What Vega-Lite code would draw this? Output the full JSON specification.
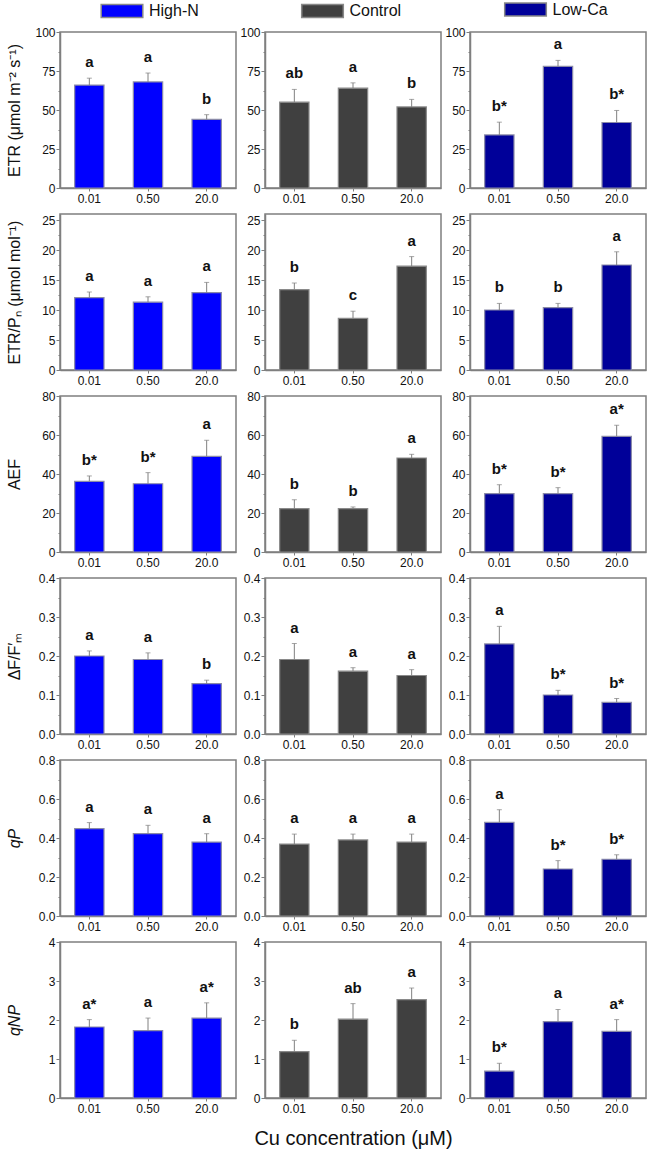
{
  "$schema": "https://vega.github.io/schema/vega-lite/v6.json",
  "padding": {"left": 5, "top": 0, "right": 0, "bottom": 0},
  "background": "white",
  "data": {"values": [
    {"m":"ETR","g":"High-N","c":"0.01","v":66,"hi":70.4,"lab":"a"},
    {"m":"ETR","g":"High-N","c":"0.50","v":68,"hi":73.7,"lab":"a"},
    {"m":"ETR","g":"High-N","c":"20.0","v":44,"hi":47,"lab":"b"},
    {"m":"ETR","g":"Control","c":"0.01","v":55,"hi":63.2,"lab":"ab"},
    {"m":"ETR","g":"Control","c":"0.50","v":64,"hi":67.4,"lab":"a"},
    {"m":"ETR","g":"Control","c":"20.0","v":52,"hi":56.8,"lab":"b"},
    {"m":"ETR","g":"Low-Ca","c":"0.01","v":34,"hi":42.2,"lab":"b*"},
    {"m":"ETR","g":"Low-Ca","c":"0.50","v":78,"hi":81.8,"lab":"a"},
    {"m":"ETR","g":"Low-Ca","c":"20.0","v":42,"hi":49.7,"lab":"b*"},
    {"m":"ETRPN","g":"High-N","c":"0.01","v":12.05,"hi":13.0,"lab":"a"},
    {"m":"ETRPN","g":"High-N","c":"0.50","v":11.3,"hi":12.2,"lab":"a"},
    {"m":"ETRPN","g":"High-N","c":"20.0","v":12.9,"hi":14.6,"lab":"a"},
    {"m":"ETRPN","g":"Control","c":"0.01","v":13.4,"hi":14.5,"lab":"b"},
    {"m":"ETRPN","g":"Control","c":"0.50","v":8.6,"hi":9.8,"lab":"c"},
    {"m":"ETRPN","g":"Control","c":"20.0","v":17.3,"hi":18.9,"lab":"a"},
    {"m":"ETRPN","g":"Low-Ca","c":"0.01","v":10.0,"hi":11.1,"lab":"b"},
    {"m":"ETRPN","g":"Low-Ca","c":"0.50","v":10.4,"hi":11.1,"lab":"b"},
    {"m":"ETRPN","g":"Low-Ca","c":"20.0","v":17.5,"hi":19.7,"lab":"a"},
    {"m":"AEF","g":"High-N","c":"0.01","v":36.2,"hi":39,"lab":"b*"},
    {"m":"AEF","g":"High-N","c":"0.50","v":35,"hi":40.7,"lab":"b*"},
    {"m":"AEF","g":"High-N","c":"20.0","v":49,"hi":57.3,"lab":"a"},
    {"m":"AEF","g":"Control","c":"0.01","v":22.2,"hi":26.8,"lab":"b"},
    {"m":"AEF","g":"Control","c":"0.50","v":22.2,"hi":23.1,"lab":"b"},
    {"m":"AEF","g":"Control","c":"20.0","v":48.2,"hi":50.1,"lab":"a"},
    {"m":"AEF","g":"Low-Ca","c":"0.01","v":29.9,"hi":34.5,"lab":"b*"},
    {"m":"AEF","g":"Low-Ca","c":"0.50","v":29.9,"hi":33,"lab":"b*"},
    {"m":"AEF","g":"Low-Ca","c":"20.0","v":59.3,"hi":65,"lab":"a*"},
    {"m":"DF","g":"High-N","c":"0.01","v":0.200,"hi":0.213,"lab":"a"},
    {"m":"DF","g":"High-N","c":"0.50","v":0.191,"hi":0.208,"lab":"a"},
    {"m":"DF","g":"High-N","c":"20.0","v":0.129,"hi":0.138,"lab":"b"},
    {"m":"DF","g":"Control","c":"0.01","v":0.191,"hi":0.232,"lab":"a"},
    {"m":"DF","g":"Control","c":"0.50","v":0.161,"hi":0.170,"lab":"a"},
    {"m":"DF","g":"Control","c":"20.0","v":0.150,"hi":0.165,"lab":"a"},
    {"m":"DF","g":"Low-Ca","c":"0.01","v":0.231,"hi":0.276,"lab":"a"},
    {"m":"DF","g":"Low-Ca","c":"0.50","v":0.100,"hi":0.112,"lab":"b*"},
    {"m":"DF","g":"Low-Ca","c":"20.0","v":0.081,"hi":0.091,"lab":"b*"},
    {"m":"qP","g":"High-N","c":"0.01","v":0.448,"hi":0.479,"lab":"a"},
    {"m":"qP","g":"High-N","c":"0.50","v":0.422,"hi":0.465,"lab":"a"},
    {"m":"qP","g":"High-N","c":"20.0","v":0.379,"hi":0.422,"lab":"a"},
    {"m":"qP","g":"Control","c":"0.01","v":0.369,"hi":0.420,"lab":"a"},
    {"m":"qP","g":"Control","c":"0.50","v":0.390,"hi":0.420,"lab":"a"},
    {"m":"qP","g":"Control","c":"20.0","v":0.379,"hi":0.420,"lab":"a"},
    {"m":"qP","g":"Low-Ca","c":"0.01","v":0.480,"hi":0.545,"lab":"a"},
    {"m":"qP","g":"Low-Ca","c":"0.50","v":0.241,"hi":0.284,"lab":"b*"},
    {"m":"qP","g":"Low-Ca","c":"20.0","v":0.291,"hi":0.314,"lab":"b*"},
    {"m":"qNP","g":"High-N","c":"0.01","v":1.82,"hi":2.01,"lab":"a*"},
    {"m":"qNP","g":"High-N","c":"0.50","v":1.73,"hi":2.05,"lab":"a"},
    {"m":"qNP","g":"High-N","c":"20.0","v":2.05,"hi":2.44,"lab":"a*"},
    {"m":"qNP","g":"Control","c":"0.01","v":1.19,"hi":1.48,"lab":"b"},
    {"m":"qNP","g":"Control","c":"0.50","v":2.02,"hi":2.42,"lab":"ab"},
    {"m":"qNP","g":"Control","c":"20.0","v":2.52,"hi":2.82,"lab":"a"},
    {"m":"qNP","g":"Low-Ca","c":"0.01","v":0.69,"hi":0.89,"lab":"b*"},
    {"m":"qNP","g":"Low-Ca","c":"0.50","v":1.96,"hi":2.27,"lab":"a"},
    {"m":"qNP","g":"Low-Ca","c":"20.0","v":1.71,"hi":2.01,"lab":"a*"}
  ]},
  "columns": 3,
  "spacing": {"row": 26, "column": 29},
  "bounds": "flush",
  "resolve": {"scale": {"color": "independent", "y": "independent", "x": "independent"}, "legend": {"color": "independent"}},
  "concat": [
    {"width":176,"height":156,"transform":[{"filter":"datum.m==='ETR' && datum.g==='High-N'"}],
     "encoding":{"x":{"field":"c","type":"ordinal","sort":["0.01","0.50","20.0"],"scale":{"paddingInner":0.5,"paddingOuter":0.25},"axis":{"title":null,"labelAngle":0}}},
     "layer":[
      {"mark":{"type":"bar","stroke":"#8a8aa8","strokeWidth":1.2},"encoding":{"y":{"field":"v","type":"quantitative","scale":{"domain":[0,100]},"axis":{"values":[0,12.5,25,37.5,50,62.5,75,87.5,100],"labelExpr":"datum.value % 25 === 0 ? datum.label : ''","tickSize":{"condition":{"test":"datum.value % 25 !== 0","value":2},"value":4},"title":"ETR (μmol m⁻² s⁻¹)","titleX":-45.5}},
        "color":{"field":"g","type":"nominal","scale":{"domain":["High-N"],"range":["#0000ff"]},"legend":{"orient":"none","legendX":54,"legendY":-29,"title":null}}}},
      {"mark":{"type":"rule","color":"#808080"},"encoding":{"y":{"field":"v","type":"quantitative","axis":{"values":[0,12.5,25,37.5,50,62.5,75,87.5,100],"labelExpr":"datum.value % 25 === 0 ? datum.label : ''","tickSize":{"condition":{"test":"datum.value % 25 !== 0","value":2},"value":4},"title":"ETR (μmol m⁻² s⁻¹)","titleX":-45.5}},"y2":{"field":"hi"}}},
      {"mark":{"type":"tick","color":"#808080","size":5,"thickness":1},"encoding":{"y":{"field":"hi","type":"quantitative","axis":{"values":[0,12.5,25,37.5,50,62.5,75,87.5,100],"labelExpr":"datum.value % 25 === 0 ? datum.label : ''","tickSize":{"condition":{"test":"datum.value % 25 !== 0","value":2},"value":4},"title":"ETR (μmol m⁻² s⁻¹)","titleX":-45.5}}}},
      {"mark":{"type":"text","dy":-16,"fontWeight":"bold","fontSize":15},"encoding":{"y":{"field":"hi","type":"quantitative","axis":{"values":[0,12.5,25,37.5,50,62.5,75,87.5,100],"labelExpr":"datum.value % 25 === 0 ? datum.label : ''","tickSize":{"condition":{"test":"datum.value % 25 !== 0","value":2},"value":4},"title":"ETR (μmol m⁻² s⁻¹)","titleX":-45.5}},"text":{"field":"lab"}}}
     ]},
    {"width":176,"height":156,"transform":[{"filter":"datum.m==='ETR' && datum.g==='Control'"}],
     "encoding":{"x":{"field":"c","type":"ordinal","sort":["0.01","0.50","20.0"],"scale":{"paddingInner":0.5,"paddingOuter":0.25},"axis":{"title":null,"labelAngle":0}}},
     "layer":[
      {"mark":{"type":"bar","stroke":"#8a8a8a","strokeWidth":1.2},"encoding":{"y":{"field":"v","type":"quantitative","scale":{"domain":[0,100]},"axis":{"values":[0,12.5,25,37.5,50,62.5,75,87.5,100],"labelExpr":"datum.value % 25 === 0 ? datum.label : ''","tickSize":{"condition":{"test":"datum.value % 25 !== 0","value":2},"value":4},"title":null}},
        "color":{"field":"g","type":"nominal","scale":{"domain":["Control"],"range":["#404040"]},"legend":{"orient":"none","legendX":49.5,"legendY":-29,"title":null}}}},
      {"mark":{"type":"rule","color":"#808080"},"encoding":{"y":{"field":"v","type":"quantitative","axis":{"values":[0,12.5,25,37.5,50,62.5,75,87.5,100],"labelExpr":"datum.value % 25 === 0 ? datum.label : ''","tickSize":{"condition":{"test":"datum.value % 25 !== 0","value":2},"value":4},"title":null}},"y2":{"field":"hi"}}},
      {"mark":{"type":"tick","color":"#808080","size":5,"thickness":1},"encoding":{"y":{"field":"hi","type":"quantitative","axis":{"values":[0,12.5,25,37.5,50,62.5,75,87.5,100],"labelExpr":"datum.value % 25 === 0 ? datum.label : ''","tickSize":{"condition":{"test":"datum.value % 25 !== 0","value":2},"value":4},"title":null}}}},
      {"mark":{"type":"text","dy":-16,"fontWeight":"bold","fontSize":15},"encoding":{"y":{"field":"hi","type":"quantitative","axis":{"values":[0,12.5,25,37.5,50,62.5,75,87.5,100],"labelExpr":"datum.value % 25 === 0 ? datum.label : ''","tickSize":{"condition":{"test":"datum.value % 25 !== 0","value":2},"value":4},"title":null}},"text":{"field":"lab"}}}
     ]},
    {"width":176,"height":156,"transform":[{"filter":"datum.m==='ETR' && datum.g==='Low-Ca'"}],
     "encoding":{"x":{"field":"c","type":"ordinal","sort":["0.01","0.50","20.0"],"scale":{"paddingInner":0.5,"paddingOuter":0.25},"axis":{"title":null,"labelAngle":0}}},
     "layer":[
      {"mark":{"type":"bar","stroke":"#8a8aa8","strokeWidth":1.2},"encoding":{"y":{"field":"v","type":"quantitative","scale":{"domain":[0,100]},"axis":{"values":[0,12.5,25,37.5,50,62.5,75,87.5,100],"labelExpr":"datum.value % 25 === 0 ? datum.label : ''","tickSize":{"condition":{"test":"datum.value % 25 !== 0","value":2},"value":4},"title":null}},
        "color":{"field":"g","type":"nominal","scale":{"domain":["Low-Ca"],"range":["#000099"]},"legend":{"orient":"none","legendX":47.5,"legendY":-30.5,"title":null}}}},
      {"mark":{"type":"rule","color":"#808080"},"encoding":{"y":{"field":"v","type":"quantitative","axis":{"values":[0,12.5,25,37.5,50,62.5,75,87.5,100],"labelExpr":"datum.value % 25 === 0 ? datum.label : ''","tickSize":{"condition":{"test":"datum.value % 25 !== 0","value":2},"value":4},"title":null}},"y2":{"field":"hi"}}},
      {"mark":{"type":"tick","color":"#808080","size":5,"thickness":1},"encoding":{"y":{"field":"hi","type":"quantitative","axis":{"values":[0,12.5,25,37.5,50,62.5,75,87.5,100],"labelExpr":"datum.value % 25 === 0 ? datum.label : ''","tickSize":{"condition":{"test":"datum.value % 25 !== 0","value":2},"value":4},"title":null}}}},
      {"mark":{"type":"text","dy":-16,"fontWeight":"bold","fontSize":15},"encoding":{"y":{"field":"hi","type":"quantitative","axis":{"values":[0,12.5,25,37.5,50,62.5,75,87.5,100],"labelExpr":"datum.value % 25 === 0 ? datum.label : ''","tickSize":{"condition":{"test":"datum.value % 25 !== 0","value":2},"value":4},"title":null}},"text":{"field":"lab"}}}
     ]},
    {"width":176,"height":156,"transform":[{"filter":"datum.m==='ETRPN' && datum.g==='High-N'"}],
     "encoding":{"x":{"field":"c","type":"ordinal","sort":["0.01","0.50","20.0"],"scale":{"paddingInner":0.5,"paddingOuter":0.25},"axis":{"title":null,"labelAngle":0}}},
     "layer":[
      {"mark":{"type":"bar","fill":"#0000ff","stroke":"#8a8aa8","strokeWidth":1.2},"encoding":{"y":{"field":"v","type":"quantitative","scale":{"domain":[0,25]},"axis":{"values":[0,2.5,5,7.5,10,12.5,15,17.5,20,22.5,25],"labelExpr":"datum.value % 5 === 0 ? datum.label : ''","tickSize":{"condition":{"test":"datum.value % 5 !== 0","value":2},"value":4},"title":"ETR/Pₙ (μmol mol⁻¹)","titleX":-45.5}}}},
      {"mark":{"type":"rule","color":"#808080"},"encoding":{"y":{"field":"v","type":"quantitative","axis":{"values":[0,2.5,5,7.5,10,12.5,15,17.5,20,22.5,25],"labelExpr":"datum.value % 5 === 0 ? datum.label : ''","tickSize":{"condition":{"test":"datum.value % 5 !== 0","value":2},"value":4},"title":"ETR/Pₙ (μmol mol⁻¹)","titleX":-45.5}},"y2":{"field":"hi"}}},
      {"mark":{"type":"tick","color":"#808080","size":5,"thickness":1},"encoding":{"y":{"field":"hi","type":"quantitative","axis":{"values":[0,2.5,5,7.5,10,12.5,15,17.5,20,22.5,25],"labelExpr":"datum.value % 5 === 0 ? datum.label : ''","tickSize":{"condition":{"test":"datum.value % 5 !== 0","value":2},"value":4},"title":"ETR/Pₙ (μmol mol⁻¹)","titleX":-45.5}}}},
      {"mark":{"type":"text","dy":-16,"fontWeight":"bold","fontSize":15},"encoding":{"y":{"field":"hi","type":"quantitative","axis":{"values":[0,2.5,5,7.5,10,12.5,15,17.5,20,22.5,25],"labelExpr":"datum.value % 5 === 0 ? datum.label : ''","tickSize":{"condition":{"test":"datum.value % 5 !== 0","value":2},"value":4},"title":"ETR/Pₙ (μmol mol⁻¹)","titleX":-45.5}},"text":{"field":"lab"}}}
     ]},
    {"width":176,"height":156,"transform":[{"filter":"datum.m==='ETRPN' && datum.g==='Control'"}],
     "encoding":{"x":{"field":"c","type":"ordinal","sort":["0.01","0.50","20.0"],"scale":{"paddingInner":0.5,"paddingOuter":0.25},"axis":{"title":null,"labelAngle":0}}},
     "layer":[
      {"mark":{"type":"bar","fill":"#404040","stroke":"#8a8a8a","strokeWidth":1.2},"encoding":{"y":{"field":"v","type":"quantitative","scale":{"domain":[0,25]},"axis":{"values":[0,2.5,5,7.5,10,12.5,15,17.5,20,22.5,25],"labelExpr":"datum.value % 5 === 0 ? datum.label : ''","tickSize":{"condition":{"test":"datum.value % 5 !== 0","value":2},"value":4},"title":null}}}},
      {"mark":{"type":"rule","color":"#808080"},"encoding":{"y":{"field":"v","type":"quantitative","axis":{"values":[0,2.5,5,7.5,10,12.5,15,17.5,20,22.5,25],"labelExpr":"datum.value % 5 === 0 ? datum.label : ''","tickSize":{"condition":{"test":"datum.value % 5 !== 0","value":2},"value":4},"title":null}},"y2":{"field":"hi"}}},
      {"mark":{"type":"tick","color":"#808080","size":5,"thickness":1},"encoding":{"y":{"field":"hi","type":"quantitative","axis":{"values":[0,2.5,5,7.5,10,12.5,15,17.5,20,22.5,25],"labelExpr":"datum.value % 5 === 0 ? datum.label : ''","tickSize":{"condition":{"test":"datum.value % 5 !== 0","value":2},"value":4},"title":null}}}},
      {"mark":{"type":"text","dy":-16,"fontWeight":"bold","fontSize":15},"encoding":{"y":{"field":"hi","type":"quantitative","axis":{"values":[0,2.5,5,7.5,10,12.5,15,17.5,20,22.5,25],"labelExpr":"datum.value % 5 === 0 ? datum.label : ''","tickSize":{"condition":{"test":"datum.value % 5 !== 0","value":2},"value":4},"title":null}},"text":{"field":"lab"}}}
     ]},
    {"width":176,"height":156,"transform":[{"filter":"datum.m==='ETRPN' && datum.g==='Low-Ca'"}],
     "encoding":{"x":{"field":"c","type":"ordinal","sort":["0.01","0.50","20.0"],"scale":{"paddingInner":0.5,"paddingOuter":0.25},"axis":{"title":null,"labelAngle":0}}},
     "layer":[
      {"mark":{"type":"bar","fill":"#000099","stroke":"#8a8aa8","strokeWidth":1.2},"encoding":{"y":{"field":"v","type":"quantitative","scale":{"domain":[0,25]},"axis":{"values":[0,2.5,5,7.5,10,12.5,15,17.5,20,22.5,25],"labelExpr":"datum.value % 5 === 0 ? datum.label : ''","tickSize":{"condition":{"test":"datum.value % 5 !== 0","value":2},"value":4},"title":null}}}},
      {"mark":{"type":"rule","color":"#808080"},"encoding":{"y":{"field":"v","type":"quantitative","axis":{"values":[0,2.5,5,7.5,10,12.5,15,17.5,20,22.5,25],"labelExpr":"datum.value % 5 === 0 ? datum.label : ''","tickSize":{"condition":{"test":"datum.value % 5 !== 0","value":2},"value":4},"title":null}},"y2":{"field":"hi"}}},
      {"mark":{"type":"tick","color":"#808080","size":5,"thickness":1},"encoding":{"y":{"field":"hi","type":"quantitative","axis":{"values":[0,2.5,5,7.5,10,12.5,15,17.5,20,22.5,25],"labelExpr":"datum.value % 5 === 0 ? datum.label : ''","tickSize":{"condition":{"test":"datum.value % 5 !== 0","value":2},"value":4},"title":null}}}},
      {"mark":{"type":"text","dy":-16,"fontWeight":"bold","fontSize":15},"encoding":{"y":{"field":"hi","type":"quantitative","axis":{"values":[0,2.5,5,7.5,10,12.5,15,17.5,20,22.5,25],"labelExpr":"datum.value % 5 === 0 ? datum.label : ''","tickSize":{"condition":{"test":"datum.value % 5 !== 0","value":2},"value":4},"title":null}},"text":{"field":"lab"}}}
     ]},
    {"width":176,"height":156,"transform":[{"filter":"datum.m==='AEF' && datum.g==='High-N'"}],
     "encoding":{"x":{"field":"c","type":"ordinal","sort":["0.01","0.50","20.0"],"scale":{"paddingInner":0.5,"paddingOuter":0.25},"axis":{"title":null,"labelAngle":0}}},
     "layer":[
      {"mark":{"type":"bar","fill":"#0000ff","stroke":"#8a8aa8","strokeWidth":1.2},"encoding":{"y":{"field":"v","type":"quantitative","scale":{"domain":[0,80]},"axis":{"values":[0,10,20,30,40,50,60,70,80],"labelExpr":"datum.value % 20 === 0 ? datum.label : ''","tickSize":{"condition":{"test":"datum.value % 20 !== 0","value":2},"value":4},"title":"AEF","titleX":-45.5}}}},
      {"mark":{"type":"rule","color":"#808080"},"encoding":{"y":{"field":"v","type":"quantitative","axis":{"values":[0,10,20,30,40,50,60,70,80],"labelExpr":"datum.value % 20 === 0 ? datum.label : ''","tickSize":{"condition":{"test":"datum.value % 20 !== 0","value":2},"value":4},"title":"AEF","titleX":-45.5}},"y2":{"field":"hi"}}},
      {"mark":{"type":"tick","color":"#808080","size":5,"thickness":1},"encoding":{"y":{"field":"hi","type":"quantitative","axis":{"values":[0,10,20,30,40,50,60,70,80],"labelExpr":"datum.value % 20 === 0 ? datum.label : ''","tickSize":{"condition":{"test":"datum.value % 20 !== 0","value":2},"value":4},"title":"AEF","titleX":-45.5}}}},
      {"mark":{"type":"text","dy":-16,"fontWeight":"bold","fontSize":15},"encoding":{"y":{"field":"hi","type":"quantitative","axis":{"values":[0,10,20,30,40,50,60,70,80],"labelExpr":"datum.value % 20 === 0 ? datum.label : ''","tickSize":{"condition":{"test":"datum.value % 20 !== 0","value":2},"value":4},"title":"AEF","titleX":-45.5}},"text":{"field":"lab"}}}
     ]},
    {"width":176,"height":156,"transform":[{"filter":"datum.m==='AEF' && datum.g==='Control'"}],
     "encoding":{"x":{"field":"c","type":"ordinal","sort":["0.01","0.50","20.0"],"scale":{"paddingInner":0.5,"paddingOuter":0.25},"axis":{"title":null,"labelAngle":0}}},
     "layer":[
      {"mark":{"type":"bar","fill":"#404040","stroke":"#8a8a8a","strokeWidth":1.2},"encoding":{"y":{"field":"v","type":"quantitative","scale":{"domain":[0,80]},"axis":{"values":[0,10,20,30,40,50,60,70,80],"labelExpr":"datum.value % 20 === 0 ? datum.label : ''","tickSize":{"condition":{"test":"datum.value % 20 !== 0","value":2},"value":4},"title":null}}}},
      {"mark":{"type":"rule","color":"#808080"},"encoding":{"y":{"field":"v","type":"quantitative","axis":{"values":[0,10,20,30,40,50,60,70,80],"labelExpr":"datum.value % 20 === 0 ? datum.label : ''","tickSize":{"condition":{"test":"datum.value % 20 !== 0","value":2},"value":4},"title":null}},"y2":{"field":"hi"}}},
      {"mark":{"type":"tick","color":"#808080","size":5,"thickness":1},"encoding":{"y":{"field":"hi","type":"quantitative","axis":{"values":[0,10,20,30,40,50,60,70,80],"labelExpr":"datum.value % 20 === 0 ? datum.label : ''","tickSize":{"condition":{"test":"datum.value % 20 !== 0","value":2},"value":4},"title":null}}}},
      {"mark":{"type":"text","dy":-16,"fontWeight":"bold","fontSize":15},"encoding":{"y":{"field":"hi","type":"quantitative","axis":{"values":[0,10,20,30,40,50,60,70,80],"labelExpr":"datum.value % 20 === 0 ? datum.label : ''","tickSize":{"condition":{"test":"datum.value % 20 !== 0","value":2},"value":4},"title":null}},"text":{"field":"lab"}}}
     ]},
    {"width":176,"height":156,"transform":[{"filter":"datum.m==='AEF' && datum.g==='Low-Ca'"}],
     "encoding":{"x":{"field":"c","type":"ordinal","sort":["0.01","0.50","20.0"],"scale":{"paddingInner":0.5,"paddingOuter":0.25},"axis":{"title":null,"labelAngle":0}}},
     "layer":[
      {"mark":{"type":"bar","fill":"#000099","stroke":"#8a8aa8","strokeWidth":1.2},"encoding":{"y":{"field":"v","type":"quantitative","scale":{"domain":[0,80]},"axis":{"values":[0,10,20,30,40,50,60,70,80],"labelExpr":"datum.value % 20 === 0 ? datum.label : ''","tickSize":{"condition":{"test":"datum.value % 20 !== 0","value":2},"value":4},"title":null}}}},
      {"mark":{"type":"rule","color":"#808080"},"encoding":{"y":{"field":"v","type":"quantitative","axis":{"values":[0,10,20,30,40,50,60,70,80],"labelExpr":"datum.value % 20 === 0 ? datum.label : ''","tickSize":{"condition":{"test":"datum.value % 20 !== 0","value":2},"value":4},"title":null}},"y2":{"field":"hi"}}},
      {"mark":{"type":"tick","color":"#808080","size":5,"thickness":1},"encoding":{"y":{"field":"hi","type":"quantitative","axis":{"values":[0,10,20,30,40,50,60,70,80],"labelExpr":"datum.value % 20 === 0 ? datum.label : ''","tickSize":{"condition":{"test":"datum.value % 20 !== 0","value":2},"value":4},"title":null}}}},
      {"mark":{"type":"text","dy":-16,"fontWeight":"bold","fontSize":15},"encoding":{"y":{"field":"hi","type":"quantitative","axis":{"values":[0,10,20,30,40,50,60,70,80],"labelExpr":"datum.value % 20 === 0 ? datum.label : ''","tickSize":{"condition":{"test":"datum.value % 20 !== 0","value":2},"value":4},"title":null}},"text":{"field":"lab"}}}
     ]},
    {"width":176,"height":156,"transform":[{"filter":"datum.m==='DF' && datum.g==='High-N'"}],
     "encoding":{"x":{"field":"c","type":"ordinal","sort":["0.01","0.50","20.0"],"scale":{"paddingInner":0.5,"paddingOuter":0.25},"axis":{"title":null,"labelAngle":0}}},
     "layer":[
      {"mark":{"type":"bar","fill":"#0000ff","stroke":"#8a8aa8","strokeWidth":1.2},"encoding":{"y":{"field":"v","type":"quantitative","scale":{"domain":[0,0.4]},"axis":{"values":[0,0.05,0.1,0.15,0.2,0.25,0.3,0.35,0.4],"format":".1f","labelExpr":"round(datum.value*100) % 10 === 0 ? datum.label : ''","tickSize":{"condition":{"test":"round(datum.value*100) % 10 !== 0","value":2},"value":4},"title":"ΔF/F′ₘ","titleX":-45.5}}}},
      {"mark":{"type":"rule","color":"#808080"},"encoding":{"y":{"field":"v","type":"quantitative","axis":{"values":[0,0.05,0.1,0.15,0.2,0.25,0.3,0.35,0.4],"format":".1f","labelExpr":"round(datum.value*100) % 10 === 0 ? datum.label : ''","tickSize":{"condition":{"test":"round(datum.value*100) % 10 !== 0","value":2},"value":4},"title":"ΔF/F′ₘ","titleX":-45.5}},"y2":{"field":"hi"}}},
      {"mark":{"type":"tick","color":"#808080","size":5,"thickness":1},"encoding":{"y":{"field":"hi","type":"quantitative","axis":{"values":[0,0.05,0.1,0.15,0.2,0.25,0.3,0.35,0.4],"format":".1f","labelExpr":"round(datum.value*100) % 10 === 0 ? datum.label : ''","tickSize":{"condition":{"test":"round(datum.value*100) % 10 !== 0","value":2},"value":4},"title":"ΔF/F′ₘ","titleX":-45.5}}}},
      {"mark":{"type":"text","dy":-16,"fontWeight":"bold","fontSize":15},"encoding":{"y":{"field":"hi","type":"quantitative","axis":{"values":[0,0.05,0.1,0.15,0.2,0.25,0.3,0.35,0.4],"format":".1f","labelExpr":"round(datum.value*100) % 10 === 0 ? datum.label : ''","tickSize":{"condition":{"test":"round(datum.value*100) % 10 !== 0","value":2},"value":4},"title":"ΔF/F′ₘ","titleX":-45.5}},"text":{"field":"lab"}}}
     ]},
    {"width":176,"height":156,"transform":[{"filter":"datum.m==='DF' && datum.g==='Control'"}],
     "encoding":{"x":{"field":"c","type":"ordinal","sort":["0.01","0.50","20.0"],"scale":{"paddingInner":0.5,"paddingOuter":0.25},"axis":{"title":null,"labelAngle":0}}},
     "layer":[
      {"mark":{"type":"bar","fill":"#404040","stroke":"#8a8a8a","strokeWidth":1.2},"encoding":{"y":{"field":"v","type":"quantitative","scale":{"domain":[0,0.4]},"axis":{"values":[0,0.05,0.1,0.15,0.2,0.25,0.3,0.35,0.4],"format":".1f","labelExpr":"round(datum.value*100) % 10 === 0 ? datum.label : ''","tickSize":{"condition":{"test":"round(datum.value*100) % 10 !== 0","value":2},"value":4},"title":null}}}},
      {"mark":{"type":"rule","color":"#808080"},"encoding":{"y":{"field":"v","type":"quantitative","axis":{"values":[0,0.05,0.1,0.15,0.2,0.25,0.3,0.35,0.4],"format":".1f","labelExpr":"round(datum.value*100) % 10 === 0 ? datum.label : ''","tickSize":{"condition":{"test":"round(datum.value*100) % 10 !== 0","value":2},"value":4},"title":null}},"y2":{"field":"hi"}}},
      {"mark":{"type":"tick","color":"#808080","size":5,"thickness":1},"encoding":{"y":{"field":"hi","type":"quantitative","axis":{"values":[0,0.05,0.1,0.15,0.2,0.25,0.3,0.35,0.4],"format":".1f","labelExpr":"round(datum.value*100) % 10 === 0 ? datum.label : ''","tickSize":{"condition":{"test":"round(datum.value*100) % 10 !== 0","value":2},"value":4},"title":null}}}},
      {"mark":{"type":"text","dy":-16,"fontWeight":"bold","fontSize":15},"encoding":{"y":{"field":"hi","type":"quantitative","axis":{"values":[0,0.05,0.1,0.15,0.2,0.25,0.3,0.35,0.4],"format":".1f","labelExpr":"round(datum.value*100) % 10 === 0 ? datum.label : ''","tickSize":{"condition":{"test":"round(datum.value*100) % 10 !== 0","value":2},"value":4},"title":null}},"text":{"field":"lab"}}}
     ]},
    {"width":176,"height":156,"transform":[{"filter":"datum.m==='DF' && datum.g==='Low-Ca'"}],
     "encoding":{"x":{"field":"c","type":"ordinal","sort":["0.01","0.50","20.0"],"scale":{"paddingInner":0.5,"paddingOuter":0.25},"axis":{"title":null,"labelAngle":0}}},
     "layer":[
      {"mark":{"type":"bar","fill":"#000099","stroke":"#8a8aa8","strokeWidth":1.2},"encoding":{"y":{"field":"v","type":"quantitative","scale":{"domain":[0,0.4]},"axis":{"values":[0,0.05,0.1,0.15,0.2,0.25,0.3,0.35,0.4],"format":".1f","labelExpr":"round(datum.value*100) % 10 === 0 ? datum.label : ''","tickSize":{"condition":{"test":"round(datum.value*100) % 10 !== 0","value":2},"value":4},"title":null}}}},
      {"mark":{"type":"rule","color":"#808080"},"encoding":{"y":{"field":"v","type":"quantitative","axis":{"values":[0,0.05,0.1,0.15,0.2,0.25,0.3,0.35,0.4],"format":".1f","labelExpr":"round(datum.value*100) % 10 === 0 ? datum.label : ''","tickSize":{"condition":{"test":"round(datum.value*100) % 10 !== 0","value":2},"value":4},"title":null}},"y2":{"field":"hi"}}},
      {"mark":{"type":"tick","color":"#808080","size":5,"thickness":1},"encoding":{"y":{"field":"hi","type":"quantitative","axis":{"values":[0,0.05,0.1,0.15,0.2,0.25,0.3,0.35,0.4],"format":".1f","labelExpr":"round(datum.value*100) % 10 === 0 ? datum.label : ''","tickSize":{"condition":{"test":"round(datum.value*100) % 10 !== 0","value":2},"value":4},"title":null}}}},
      {"mark":{"type":"text","dy":-16,"fontWeight":"bold","fontSize":15},"encoding":{"y":{"field":"hi","type":"quantitative","axis":{"values":[0,0.05,0.1,0.15,0.2,0.25,0.3,0.35,0.4],"format":".1f","labelExpr":"round(datum.value*100) % 10 === 0 ? datum.label : ''","tickSize":{"condition":{"test":"round(datum.value*100) % 10 !== 0","value":2},"value":4},"title":null}},"text":{"field":"lab"}}}
     ]},
    {"width":176,"height":156,"transform":[{"filter":"datum.m==='qP' && datum.g==='High-N'"}],
     "encoding":{"x":{"field":"c","type":"ordinal","sort":["0.01","0.50","20.0"],"scale":{"paddingInner":0.5,"paddingOuter":0.25},"axis":{"title":null,"labelAngle":0}}},
     "layer":[
      {"mark":{"type":"bar","fill":"#0000ff","stroke":"#8a8aa8","strokeWidth":1.2},"encoding":{"y":{"field":"v","type":"quantitative","scale":{"domain":[0,0.8]},"axis":{"values":[0,0.1,0.2,0.3,0.4,0.5,0.6,0.7,0.8],"format":".1f","labelExpr":"round(datum.value*10) % 2 === 0 ? datum.label : ''","tickSize":{"condition":{"test":"round(datum.value*10) % 2 !== 0","value":2},"value":4},"title":"qP","titleFontStyle":"italic","titleX":-45.5}}}},
      {"mark":{"type":"rule","color":"#808080"},"encoding":{"y":{"field":"v","type":"quantitative","axis":{"values":[0,0.1,0.2,0.3,0.4,0.5,0.6,0.7,0.8],"format":".1f","labelExpr":"round(datum.value*10) % 2 === 0 ? datum.label : ''","tickSize":{"condition":{"test":"round(datum.value*10) % 2 !== 0","value":2},"value":4},"title":"qP","titleFontStyle":"italic","titleX":-45.5}},"y2":{"field":"hi"}}},
      {"mark":{"type":"tick","color":"#808080","size":5,"thickness":1},"encoding":{"y":{"field":"hi","type":"quantitative","axis":{"values":[0,0.1,0.2,0.3,0.4,0.5,0.6,0.7,0.8],"format":".1f","labelExpr":"round(datum.value*10) % 2 === 0 ? datum.label : ''","tickSize":{"condition":{"test":"round(datum.value*10) % 2 !== 0","value":2},"value":4},"title":"qP","titleFontStyle":"italic","titleX":-45.5}}}},
      {"mark":{"type":"text","dy":-16,"fontWeight":"bold","fontSize":15},"encoding":{"y":{"field":"hi","type":"quantitative","axis":{"values":[0,0.1,0.2,0.3,0.4,0.5,0.6,0.7,0.8],"format":".1f","labelExpr":"round(datum.value*10) % 2 === 0 ? datum.label : ''","tickSize":{"condition":{"test":"round(datum.value*10) % 2 !== 0","value":2},"value":4},"title":"qP","titleFontStyle":"italic","titleX":-45.5}},"text":{"field":"lab"}}}
     ]},
    {"width":176,"height":156,"transform":[{"filter":"datum.m==='qP' && datum.g==='Control'"}],
     "encoding":{"x":{"field":"c","type":"ordinal","sort":["0.01","0.50","20.0"],"scale":{"paddingInner":0.5,"paddingOuter":0.25},"axis":{"title":null,"labelAngle":0}}},
     "layer":[
      {"mark":{"type":"bar","fill":"#404040","stroke":"#8a8a8a","strokeWidth":1.2},"encoding":{"y":{"field":"v","type":"quantitative","scale":{"domain":[0,0.8]},"axis":{"values":[0,0.1,0.2,0.3,0.4,0.5,0.6,0.7,0.8],"format":".1f","labelExpr":"round(datum.value*10) % 2 === 0 ? datum.label : ''","tickSize":{"condition":{"test":"round(datum.value*10) % 2 !== 0","value":2},"value":4},"title":null}}}},
      {"mark":{"type":"rule","color":"#808080"},"encoding":{"y":{"field":"v","type":"quantitative","axis":{"values":[0,0.1,0.2,0.3,0.4,0.5,0.6,0.7,0.8],"format":".1f","labelExpr":"round(datum.value*10) % 2 === 0 ? datum.label : ''","tickSize":{"condition":{"test":"round(datum.value*10) % 2 !== 0","value":2},"value":4},"title":null}},"y2":{"field":"hi"}}},
      {"mark":{"type":"tick","color":"#808080","size":5,"thickness":1},"encoding":{"y":{"field":"hi","type":"quantitative","axis":{"values":[0,0.1,0.2,0.3,0.4,0.5,0.6,0.7,0.8],"format":".1f","labelExpr":"round(datum.value*10) % 2 === 0 ? datum.label : ''","tickSize":{"condition":{"test":"round(datum.value*10) % 2 !== 0","value":2},"value":4},"title":null}}}},
      {"mark":{"type":"text","dy":-16,"fontWeight":"bold","fontSize":15},"encoding":{"y":{"field":"hi","type":"quantitative","axis":{"values":[0,0.1,0.2,0.3,0.4,0.5,0.6,0.7,0.8],"format":".1f","labelExpr":"round(datum.value*10) % 2 === 0 ? datum.label : ''","tickSize":{"condition":{"test":"round(datum.value*10) % 2 !== 0","value":2},"value":4},"title":null}},"text":{"field":"lab"}}}
     ]},
    {"width":176,"height":156,"transform":[{"filter":"datum.m==='qP' && datum.g==='Low-Ca'"}],
     "encoding":{"x":{"field":"c","type":"ordinal","sort":["0.01","0.50","20.0"],"scale":{"paddingInner":0.5,"paddingOuter":0.25},"axis":{"title":null,"labelAngle":0}}},
     "layer":[
      {"mark":{"type":"bar","fill":"#000099","stroke":"#8a8aa8","strokeWidth":1.2},"encoding":{"y":{"field":"v","type":"quantitative","scale":{"domain":[0,0.8]},"axis":{"values":[0,0.1,0.2,0.3,0.4,0.5,0.6,0.7,0.8],"format":".1f","labelExpr":"round(datum.value*10) % 2 === 0 ? datum.label : ''","tickSize":{"condition":{"test":"round(datum.value*10) % 2 !== 0","value":2},"value":4},"title":null}}}},
      {"mark":{"type":"rule","color":"#808080"},"encoding":{"y":{"field":"v","type":"quantitative","axis":{"values":[0,0.1,0.2,0.3,0.4,0.5,0.6,0.7,0.8],"format":".1f","labelExpr":"round(datum.value*10) % 2 === 0 ? datum.label : ''","tickSize":{"condition":{"test":"round(datum.value*10) % 2 !== 0","value":2},"value":4},"title":null}},"y2":{"field":"hi"}}},
      {"mark":{"type":"tick","color":"#808080","size":5,"thickness":1},"encoding":{"y":{"field":"hi","type":"quantitative","axis":{"values":[0,0.1,0.2,0.3,0.4,0.5,0.6,0.7,0.8],"format":".1f","labelExpr":"round(datum.value*10) % 2 === 0 ? datum.label : ''","tickSize":{"condition":{"test":"round(datum.value*10) % 2 !== 0","value":2},"value":4},"title":null}}}},
      {"mark":{"type":"text","dy":-16,"fontWeight":"bold","fontSize":15},"encoding":{"y":{"field":"hi","type":"quantitative","axis":{"values":[0,0.1,0.2,0.3,0.4,0.5,0.6,0.7,0.8],"format":".1f","labelExpr":"round(datum.value*10) % 2 === 0 ? datum.label : ''","tickSize":{"condition":{"test":"round(datum.value*10) % 2 !== 0","value":2},"value":4},"title":null}},"text":{"field":"lab"}}}
     ]},
    {"width":176,"height":156,"transform":[{"filter":"datum.m==='qNP' && datum.g==='High-N'"}],
     "encoding":{"x":{"field":"c","type":"ordinal","sort":["0.01","0.50","20.0"],"scale":{"paddingInner":0.5,"paddingOuter":0.25},"axis":{"title":null,"labelAngle":0}}},
     "layer":[
      {"mark":{"type":"bar","fill":"#0000ff","stroke":"#8a8aa8","strokeWidth":1.2},"encoding":{"y":{"field":"v","type":"quantitative","scale":{"domain":[0,4]},"axis":{"values":[0,0.5,1,1.5,2,2.5,3,3.5,4],"format":"d","labelExpr":"round(datum.value*2) % 2 === 0 ? datum.label : ''","tickSize":{"condition":{"test":"round(datum.value*2) % 2 !== 0","value":2},"value":4},"title":"qNP","titleFontStyle":"italic","titleX":-45.5}}}},
      {"mark":{"type":"rule","color":"#808080"},"encoding":{"y":{"field":"v","type":"quantitative","axis":{"values":[0,0.5,1,1.5,2,2.5,3,3.5,4],"format":"d","labelExpr":"round(datum.value*2) % 2 === 0 ? datum.label : ''","tickSize":{"condition":{"test":"round(datum.value*2) % 2 !== 0","value":2},"value":4},"title":"qNP","titleFontStyle":"italic","titleX":-45.5}},"y2":{"field":"hi"}}},
      {"mark":{"type":"tick","color":"#808080","size":5,"thickness":1},"encoding":{"y":{"field":"hi","type":"quantitative","axis":{"values":[0,0.5,1,1.5,2,2.5,3,3.5,4],"format":"d","labelExpr":"round(datum.value*2) % 2 === 0 ? datum.label : ''","tickSize":{"condition":{"test":"round(datum.value*2) % 2 !== 0","value":2},"value":4},"title":"qNP","titleFontStyle":"italic","titleX":-45.5}}}},
      {"mark":{"type":"text","dy":-16,"fontWeight":"bold","fontSize":15},"encoding":{"y":{"field":"hi","type":"quantitative","axis":{"values":[0,0.5,1,1.5,2,2.5,3,3.5,4],"format":"d","labelExpr":"round(datum.value*2) % 2 === 0 ? datum.label : ''","tickSize":{"condition":{"test":"round(datum.value*2) % 2 !== 0","value":2},"value":4},"title":"qNP","titleFontStyle":"italic","titleX":-45.5}},"text":{"field":"lab"}}}
     ]},
    {"width":176,"height":156,"transform":[{"filter":"datum.m==='qNP' && datum.g==='Control'"}],
     "encoding":{"x":{"field":"c","type":"ordinal","sort":["0.01","0.50","20.0"],"scale":{"paddingInner":0.5,"paddingOuter":0.25},"axis":{"title":"Cu concentration (μM)","titleFontSize":20,"titlePadding":14,"labelAngle":0}}},
     "layer":[
      {"mark":{"type":"bar","fill":"#404040","stroke":"#8a8a8a","strokeWidth":1.2},"encoding":{"y":{"field":"v","type":"quantitative","scale":{"domain":[0,4]},"axis":{"values":[0,0.5,1,1.5,2,2.5,3,3.5,4],"format":"d","labelExpr":"round(datum.value*2) % 2 === 0 ? datum.label : ''","tickSize":{"condition":{"test":"round(datum.value*2) % 2 !== 0","value":2},"value":4},"title":null}}}},
      {"mark":{"type":"rule","color":"#808080"},"encoding":{"y":{"field":"v","type":"quantitative","axis":{"values":[0,0.5,1,1.5,2,2.5,3,3.5,4],"format":"d","labelExpr":"round(datum.value*2) % 2 === 0 ? datum.label : ''","tickSize":{"condition":{"test":"round(datum.value*2) % 2 !== 0","value":2},"value":4},"title":null}},"y2":{"field":"hi"}}},
      {"mark":{"type":"tick","color":"#808080","size":5,"thickness":1},"encoding":{"y":{"field":"hi","type":"quantitative","axis":{"values":[0,0.5,1,1.5,2,2.5,3,3.5,4],"format":"d","labelExpr":"round(datum.value*2) % 2 === 0 ? datum.label : ''","tickSize":{"condition":{"test":"round(datum.value*2) % 2 !== 0","value":2},"value":4},"title":null}}}},
      {"mark":{"type":"text","dy":-16,"fontWeight":"bold","fontSize":15},"encoding":{"y":{"field":"hi","type":"quantitative","axis":{"values":[0,0.5,1,1.5,2,2.5,3,3.5,4],"format":"d","labelExpr":"round(datum.value*2) % 2 === 0 ? datum.label : ''","tickSize":{"condition":{"test":"round(datum.value*2) % 2 !== 0","value":2},"value":4},"title":null}},"text":{"field":"lab"}}}
     ]},
    {"width":176,"height":156,"transform":[{"filter":"datum.m==='qNP' && datum.g==='Low-Ca'"}],
     "encoding":{"x":{"field":"c","type":"ordinal","sort":["0.01","0.50","20.0"],"scale":{"paddingInner":0.5,"paddingOuter":0.25},"axis":{"title":null,"labelAngle":0}}},
     "layer":[
      {"mark":{"type":"bar","fill":"#000099","stroke":"#8a8aa8","strokeWidth":1.2},"encoding":{"y":{"field":"v","type":"quantitative","scale":{"domain":[0,4]},"axis":{"values":[0,0.5,1,1.5,2,2.5,3,3.5,4],"format":"d","labelExpr":"round(datum.value*2) % 2 === 0 ? datum.label : ''","tickSize":{"condition":{"test":"round(datum.value*2) % 2 !== 0","value":2},"value":4},"title":null}}}},
      {"mark":{"type":"rule","color":"#808080"},"encoding":{"y":{"field":"v","type":"quantitative","axis":{"values":[0,0.5,1,1.5,2,2.5,3,3.5,4],"format":"d","labelExpr":"round(datum.value*2) % 2 === 0 ? datum.label : ''","tickSize":{"condition":{"test":"round(datum.value*2) % 2 !== 0","value":2},"value":4},"title":null}},"y2":{"field":"hi"}}},
      {"mark":{"type":"tick","color":"#808080","size":5,"thickness":1},"encoding":{"y":{"field":"hi","type":"quantitative","axis":{"values":[0,0.5,1,1.5,2,2.5,3,3.5,4],"format":"d","labelExpr":"round(datum.value*2) % 2 === 0 ? datum.label : ''","tickSize":{"condition":{"test":"round(datum.value*2) % 2 !== 0","value":2},"value":4},"title":null}}}},
      {"mark":{"type":"text","dy":-16,"fontWeight":"bold","fontSize":15},"encoding":{"y":{"field":"hi","type":"quantitative","axis":{"values":[0,0.5,1,1.5,2,2.5,3,3.5,4],"format":"d","labelExpr":"round(datum.value*2) % 2 === 0 ? datum.label : ''","tickSize":{"condition":{"test":"round(datum.value*2) % 2 !== 0","value":2},"value":4},"title":null}},"text":{"field":"lab"}}}
     ]}
  ],
  "config": {
    "view": {"stroke": "#7f7f7f", "strokeWidth": 1.5},
    "font": "Arial",
    "axis": {"grid": false, "domainColor": "#7f7f7f", "domainWidth": 1.5, "tickColor": "#7f7f7f", "tickSize": 3, "labelFont": "Arial", "labelFontSize": 12, "labelColor": "#111111", "labelPadding": 1, "labelOverlap": false, "titleFont": "Arial", "titleFontWeight": "normal", "titleColor": "#111111"},
    "axisY": {"titleFontSize": 16, "titleBaseline": "middle"},
    "axisX": {"labelPadding": 2},
    "legend": {"labelFont": "Arial", "labelFontSize": 16, "labelColor": "#111111", "symbolType": "M-3.2,-1H3.2V1H-3.2Z", "symbolSize": 169, "symbolStrokeColor": "#888888", "symbolStrokeWidth": 1.5, "symbolOpacity": 1, "labelOffset": 19},
    "text": {"font": "Arial", "color": "#111111"},
    "bar": {"opacity": 1}
  }
}
